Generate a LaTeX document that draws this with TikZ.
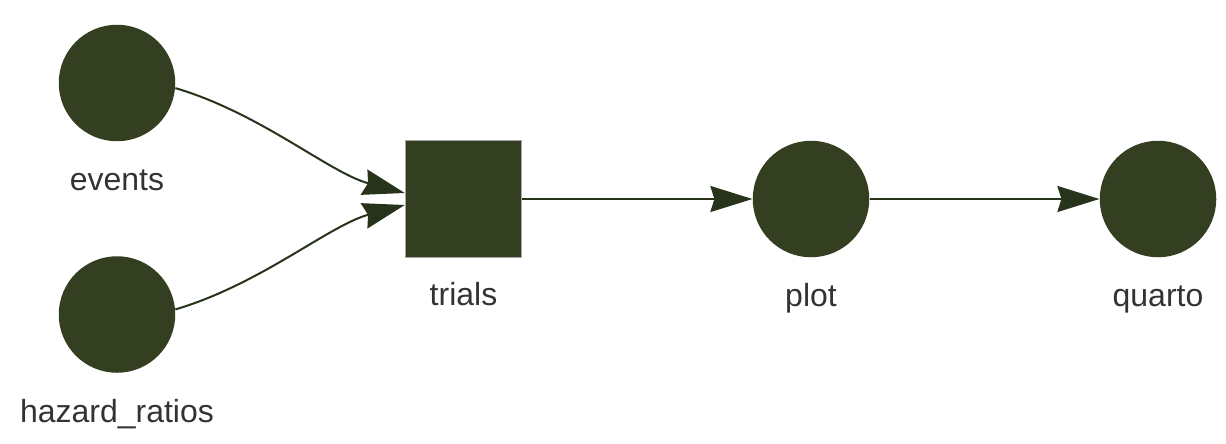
\documentclass[tikz,border=0pt]{standalone}
\usepackage{fontspec}
\setmainfont{Liberation Sans}
\usepackage{tikz}
\usetikzlibrary{arrows.meta}

\definecolor{vert}{HTML}{333F20}
\definecolor{trait}{HTML}{27331A}
\definecolor{gris}{HTML}{333333}

\begin{document}
\begin{tikzpicture}[x=0.2mm, y=0.2mm,
    rond/.style={circle, fill=vert, minimum size=23.3mm, inner sep=0pt},
    carre/.style={rectangle, fill=vert, draw=gray!70, line width=0.2mm, minimum size=23.3mm, inner sep=0pt},
    etiq/.style={anchor=base, text=gris, font=\fontsize{18.2}{22}\selectfont},
    fleche/.style={draw=trait, line width=0.4mm, -{Stealth[length=8.4mm, width=5.2mm, inset=0.8mm]}}]
  \useasboundingbox (0,0) rectangle (1226,443);
      \foreach \x/\y/\nom/\mot in {117/360/events/events, 117/128.5/hazard/hazard\_ratios,
                                   811/244/plot/plot, 1158/244/quarto/quarto} {
        \node[rond]  (\nom) at (\x,\y) {};
        \node[etiq]  (lab\nom) at ([yshift=-9.8mm]\nom.south) {\mot};
      }
      \node[carre] (trials) at (463.5,244) {};
      \node[etiq]  (labtrials) at ([yshift=-9.6mm]trials.south) {trials};
      % liens
      \draw[fleche] (events.-5) .. controls +(85,-25) and +(-75,20) .. ([yshift=1.2mm]trials.west);
      \draw[fleche] (hazard.5) .. controls +(85,25) and +(-75,-20) .. ([yshift=-1.2mm]trials.west);
      \draw[fleche] (trials) -- (plot);
      \draw[fleche] (plot) -- (quarto);
    \end{tikzpicture}
\end{document}
